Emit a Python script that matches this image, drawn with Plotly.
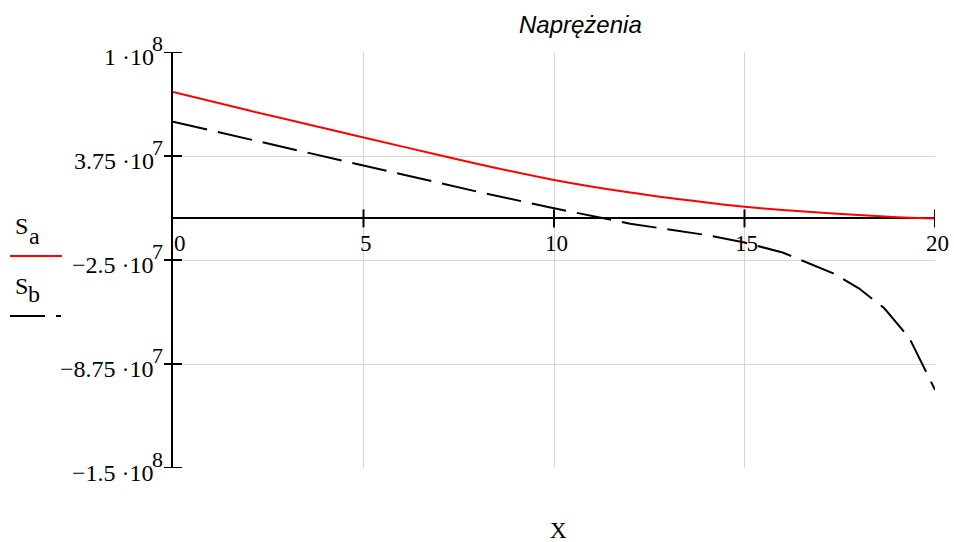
import plotly.graph_objects as go

# Stress along the beam: position x and the two stress series
x = [0, 2, 4, 6, 8, 10, 12, 14, 15, 16, 17.33, 18, 18.67, 19.33, 20]
s_a = [7.6e7, 6.48e7, 5.4e7, 4.33e7, 3.27e7, 2.31e7, 1.55e7, 0.95e7, 0.70e7,
       0.50e7, 0.30e7, 0.20e7, 0.11e7, 0.04e7, 0.0]
s_b = [5.81e7, 4.75e7, 3.68e7, 2.62e7, 1.60e7, 0.61e7, -0.32e7, -1.0e7, -1.45e7,
       -2.05e7, -3.3e7, -4.2e7, -5.4e7, -7.2e7, -10.3e7]

x_ticks = [0, 5, 10, 15, 20]
y_ticks = [1e8, 3.75e7, -2.5e7, -8.75e7, -1.5e8]
y_mantissa = ["1 \u00b710", "3.75 \u00b710", "\u22122.5 \u00b710", "\u22128.75 \u00b710", "\u22121.5 \u00b710"]
y_exponent = ["8", "7", "7", "7", "8"]

W, H = 954, 542
L, R, T, B = 173, 19, 52, 74
PW, PH = W - L - R, H - T - B

SERIF = "Liberation Serif"
GRID = "#d6d6d6"


def px(v):
    return (v - L) / PW


def py(v):
    return (H - B - v) / PH


fig = go.Figure()
fig.add_trace(go.Scatter(x=x, y=s_a, mode="lines", name="S_a",
                         line=dict(color="#ff0000", width=2, shape="spline", smoothing=0.6),
                         showlegend=False))
fig.add_trace(go.Scatter(x=x, y=s_b, mode="lines", name="S_b",
                         line=dict(color="#000000", width=2, dash="35px,11px"),
                         showlegend=False))

shapes = []
# crossing tick marks on the zero line
for t in x_ticks[1:]:
    shapes.append(dict(type="line", xref="x", yref="y", x0=t, x1=t,
                       ysizemode="pixel", yanchor=0, y0=-9, y1=9,
                       line=dict(color="black", width=2)))
# crossing tick marks on the vertical axis
for t in y_ticks:
    shapes.append(dict(type="line", xref="paper", yref="y", y0=t, y1=t,
                       x0=px(164), x1=px(182),
                       line=dict(color="black", width=2)))
# legend samples
shapes.append(dict(type="line", xref="paper", yref="paper",
                   x0=px(10), x1=px(62), y0=py(256), y1=py(256),
                   line=dict(color="#ff0000", width=2)))
shapes.append(dict(type="line", xref="paper", yref="paper",
                   x0=px(10), x1=px(61), y0=py(316), y1=py(316),
                   line=dict(color="black", width=2, dash="35px,11px")))

annotations = []
for t, m, e in zip(y_ticks, y_mantissa, y_exponent):
    annotations.append(dict(x=0, y=t, xref="x", yref="y", text=m, showarrow=False,
                            xanchor="right", yanchor="middle", xshift=-17, yshift=-5,
                            font=dict(family=SERIF, size=24, color="black")))
    annotations.append(dict(x=0, y=t, xref="x", yref="y", text=e, showarrow=False,
                            xanchor="right", yanchor="middle", xshift=-8, yshift=9,
                            font=dict(family=SERIF, size=22, color="black")))
for t in x_ticks:
    annotations.append(dict(x=t, y=0, xref="x", yref="y", text=str(t), showarrow=False,
                            xanchor="center", yanchor="top", yshift=-11,
                            xshift=7 if t == 0 else 2,
                            font=dict(family=SERIF, size=23, color="black")))

# legend labels
annotations += [
    dict(x=px(21), y=py(226), xref="paper", yref="paper", text="S", showarrow=False,
         xanchor="center", yanchor="middle", font=dict(family=SERIF, size=24, color="black")),
    dict(x=px(34), y=py(236), xref="paper", yref="paper", text="a", showarrow=False,
         xanchor="center", yanchor="middle", font=dict(family=SERIF, size=24, color="black")),
    dict(x=px(21), y=py(286), xref="paper", yref="paper", text="S", showarrow=False,
         xanchor="center", yanchor="middle", font=dict(family=SERIF, size=24, color="black")),
    dict(x=px(34), y=py(294), xref="paper", yref="paper", text="b", showarrow=False,
         xanchor="center", yanchor="middle", font=dict(family=SERIF, size=24, color="black")),
    dict(x=px(580), y=py(25), xref="paper", yref="paper", text="<i>Naprężenia</i>",
         showarrow=False, xanchor="center", yanchor="middle",
         font=dict(family="Liberation Sans", size=24, color="black")),
    dict(x=px(558), y=py(530), xref="paper", yref="paper", text="X", showarrow=False,
         xanchor="center", yanchor="middle", font=dict(family=SERIF, size=23, color="black")),
]

fig.update_layout(
    width=W, height=H,
    margin=dict(l=L, r=R, t=T, b=B, pad=0),
    paper_bgcolor="white", plot_bgcolor="white",
    shapes=shapes, annotations=annotations,
    xaxis=dict(range=[0, 20], tickvals=x_ticks, showticklabels=False,
               showgrid=True, gridcolor=GRID, gridwidth=1,
               zeroline=False, showline=False, ticks=""),
    yaxis=dict(range=[-1.5e8, 1e8], tickvals=y_ticks, showticklabels=False,
               showgrid=True, gridcolor=GRID, gridwidth=1,
               zeroline=True, zerolinecolor="black", zerolinewidth=2,
               showline=True, linecolor="black", linewidth=2, ticks="",
               layer="above traces"),
)

fig.write_html("out.html")
